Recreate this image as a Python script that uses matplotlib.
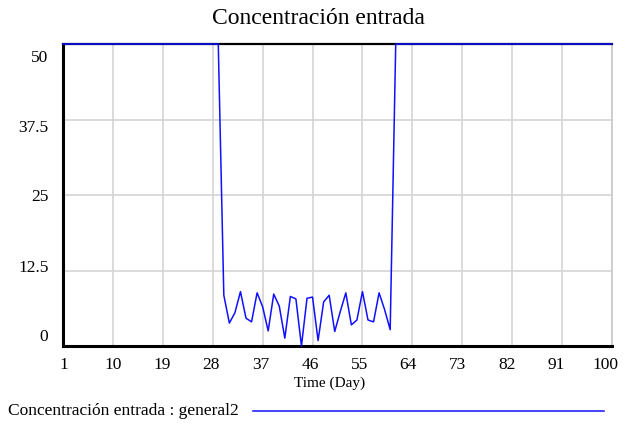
import numpy as np
import matplotlib.pyplot as plt
import matplotlib.transforms as mtransforms
from matplotlib.lines import Line2D

plt.rcParams['font.family'] = ['Liberation Serif', 'DejaVu Serif']

# simulation output, one value per day
days = list(range(1, 101))
concentracion = [
    50.0, 50.0, 50.0, 50.0, 50.0, 50.0, 50.0, 50.0, 50.0, 50.0,   # 1-10
    50.0, 50.0, 50.0, 50.0, 50.0, 50.0, 50.0, 50.0, 50.0, 50.0,   # 11-20
    50.0, 50.0, 50.0, 50.0, 50.0, 50.0, 50.0, 50.0, 50.0, 8.4,    # 21-30
    3.8, 5.5, 9.0, 4.6, 4.0, 8.8, 6.5, 2.5, 8.6, 6.6,             # 31-40
    1.3, 8.2, 7.8, 0.0, 7.9, 8.1, 0.9, 7.3, 8.4, 2.4,             # 41-50
    5.7, 8.8, 3.5, 4.3, 9.0, 4.3, 4.0, 8.8, 6.0, 2.7,             # 51-60
    50.0, 50.0, 50.0, 50.0, 50.0, 50.0, 50.0, 50.0, 50.0, 50.0,   # 61-70
    50.0, 50.0, 50.0, 50.0, 50.0, 50.0, 50.0, 50.0, 50.0, 50.0,   # 71-80
    50.0, 50.0, 50.0, 50.0, 50.0, 50.0, 50.0, 50.0, 50.0, 50.0,   # 81-90
    50.0, 50.0, 50.0, 50.0, 50.0, 50.0, 50.0, 50.0, 50.0, 50.0,   # 91-100
]
x_ticks = [1, 10, 19, 28, 37, 46, 55, 64, 73, 82, 91, 100]
y_ticks = [0, 12.5, 25, 37.5, 50]
y_ticklabels = ['0', '12.5', '25', '37.5', '50']

title = 'Concentración entrada'
x_label = 'Time (Day)'
series_name = 'Concentración entrada : general2'

W, H = 626, 426
fig = plt.figure(figsize=(W / 100, H / 100), dpi=100)
ax = fig.add_axes([63 / W, 1 - 346 / H, (612 - 63) / W, (346 - 44) / H])

ax.plot(days, concentracion, color='#1010ff', lw=1.1, clip_on=False, zorder=5)

ax.set_xlim(1, 100)
ax.set_ylim(0, 50)
ax.set_xticks(x_ticks)
ax.set_xticklabels([str(t) for t in x_ticks])
ax.set_yticks(y_ticks)
ax.set_yticklabels(y_ticklabels)
ax.grid(True, color='#d4d4d4', lw=1.2)
ax.set_axisbelow(True)
ax.tick_params(length=0, labelsize=12.5)
ax.tick_params(axis='y', pad=10.5)
ax.tick_params(axis='x', pad=8)

for s in ['left', 'bottom']:
    ax.spines[s].set_linewidth(2.2)
    ax.spines[s].set_color('black')
ax.spines['top'].set_linewidth(1.6)
ax.spines['top'].set_color('black')
ax.spines['right'].set_linewidth(1.2)
ax.spines['right'].set_color('#c8c8c8')

# tick labels are pulled in toward the middle of each axis (pixel offsets)
y_shift = [11, 4, 0, -7, -12]
for lab, dy in zip(ax.get_yticklabels(), y_shift):
    lab.set_transform(lab.get_transform() +
                      mtransforms.ScaledTranslation(0, dy / 100, fig.dpi_scale_trans))
for lab, t in zip(ax.get_xticklabels(), x_ticks):
    dx = 0.5 - (t - 1) / 99 * 7
    lab.set_transform(lab.get_transform() +
                      mtransforms.ScaledTranslation(dx / 100, 0, fig.dpi_scale_trans))

fig.text(318 / W, 1 - 18 / H, title, ha='center', va='center', fontsize=17)
fig.text(330 / W, 1 - 383 / H, x_label, ha='center', va='center', fontsize=11)

# legend row under the plot
fig.text(8 / W, 1 - 411 / H, series_name, ha='left', va='center', fontsize=12.5)
fig.add_artist(Line2D([253 / W, 604 / W], [1 - 411 / H, 1 - 411 / H],
                      transform=fig.transFigure, color='#1010ff', lw=1.1))

fig.savefig('out.png', dpi=100)
